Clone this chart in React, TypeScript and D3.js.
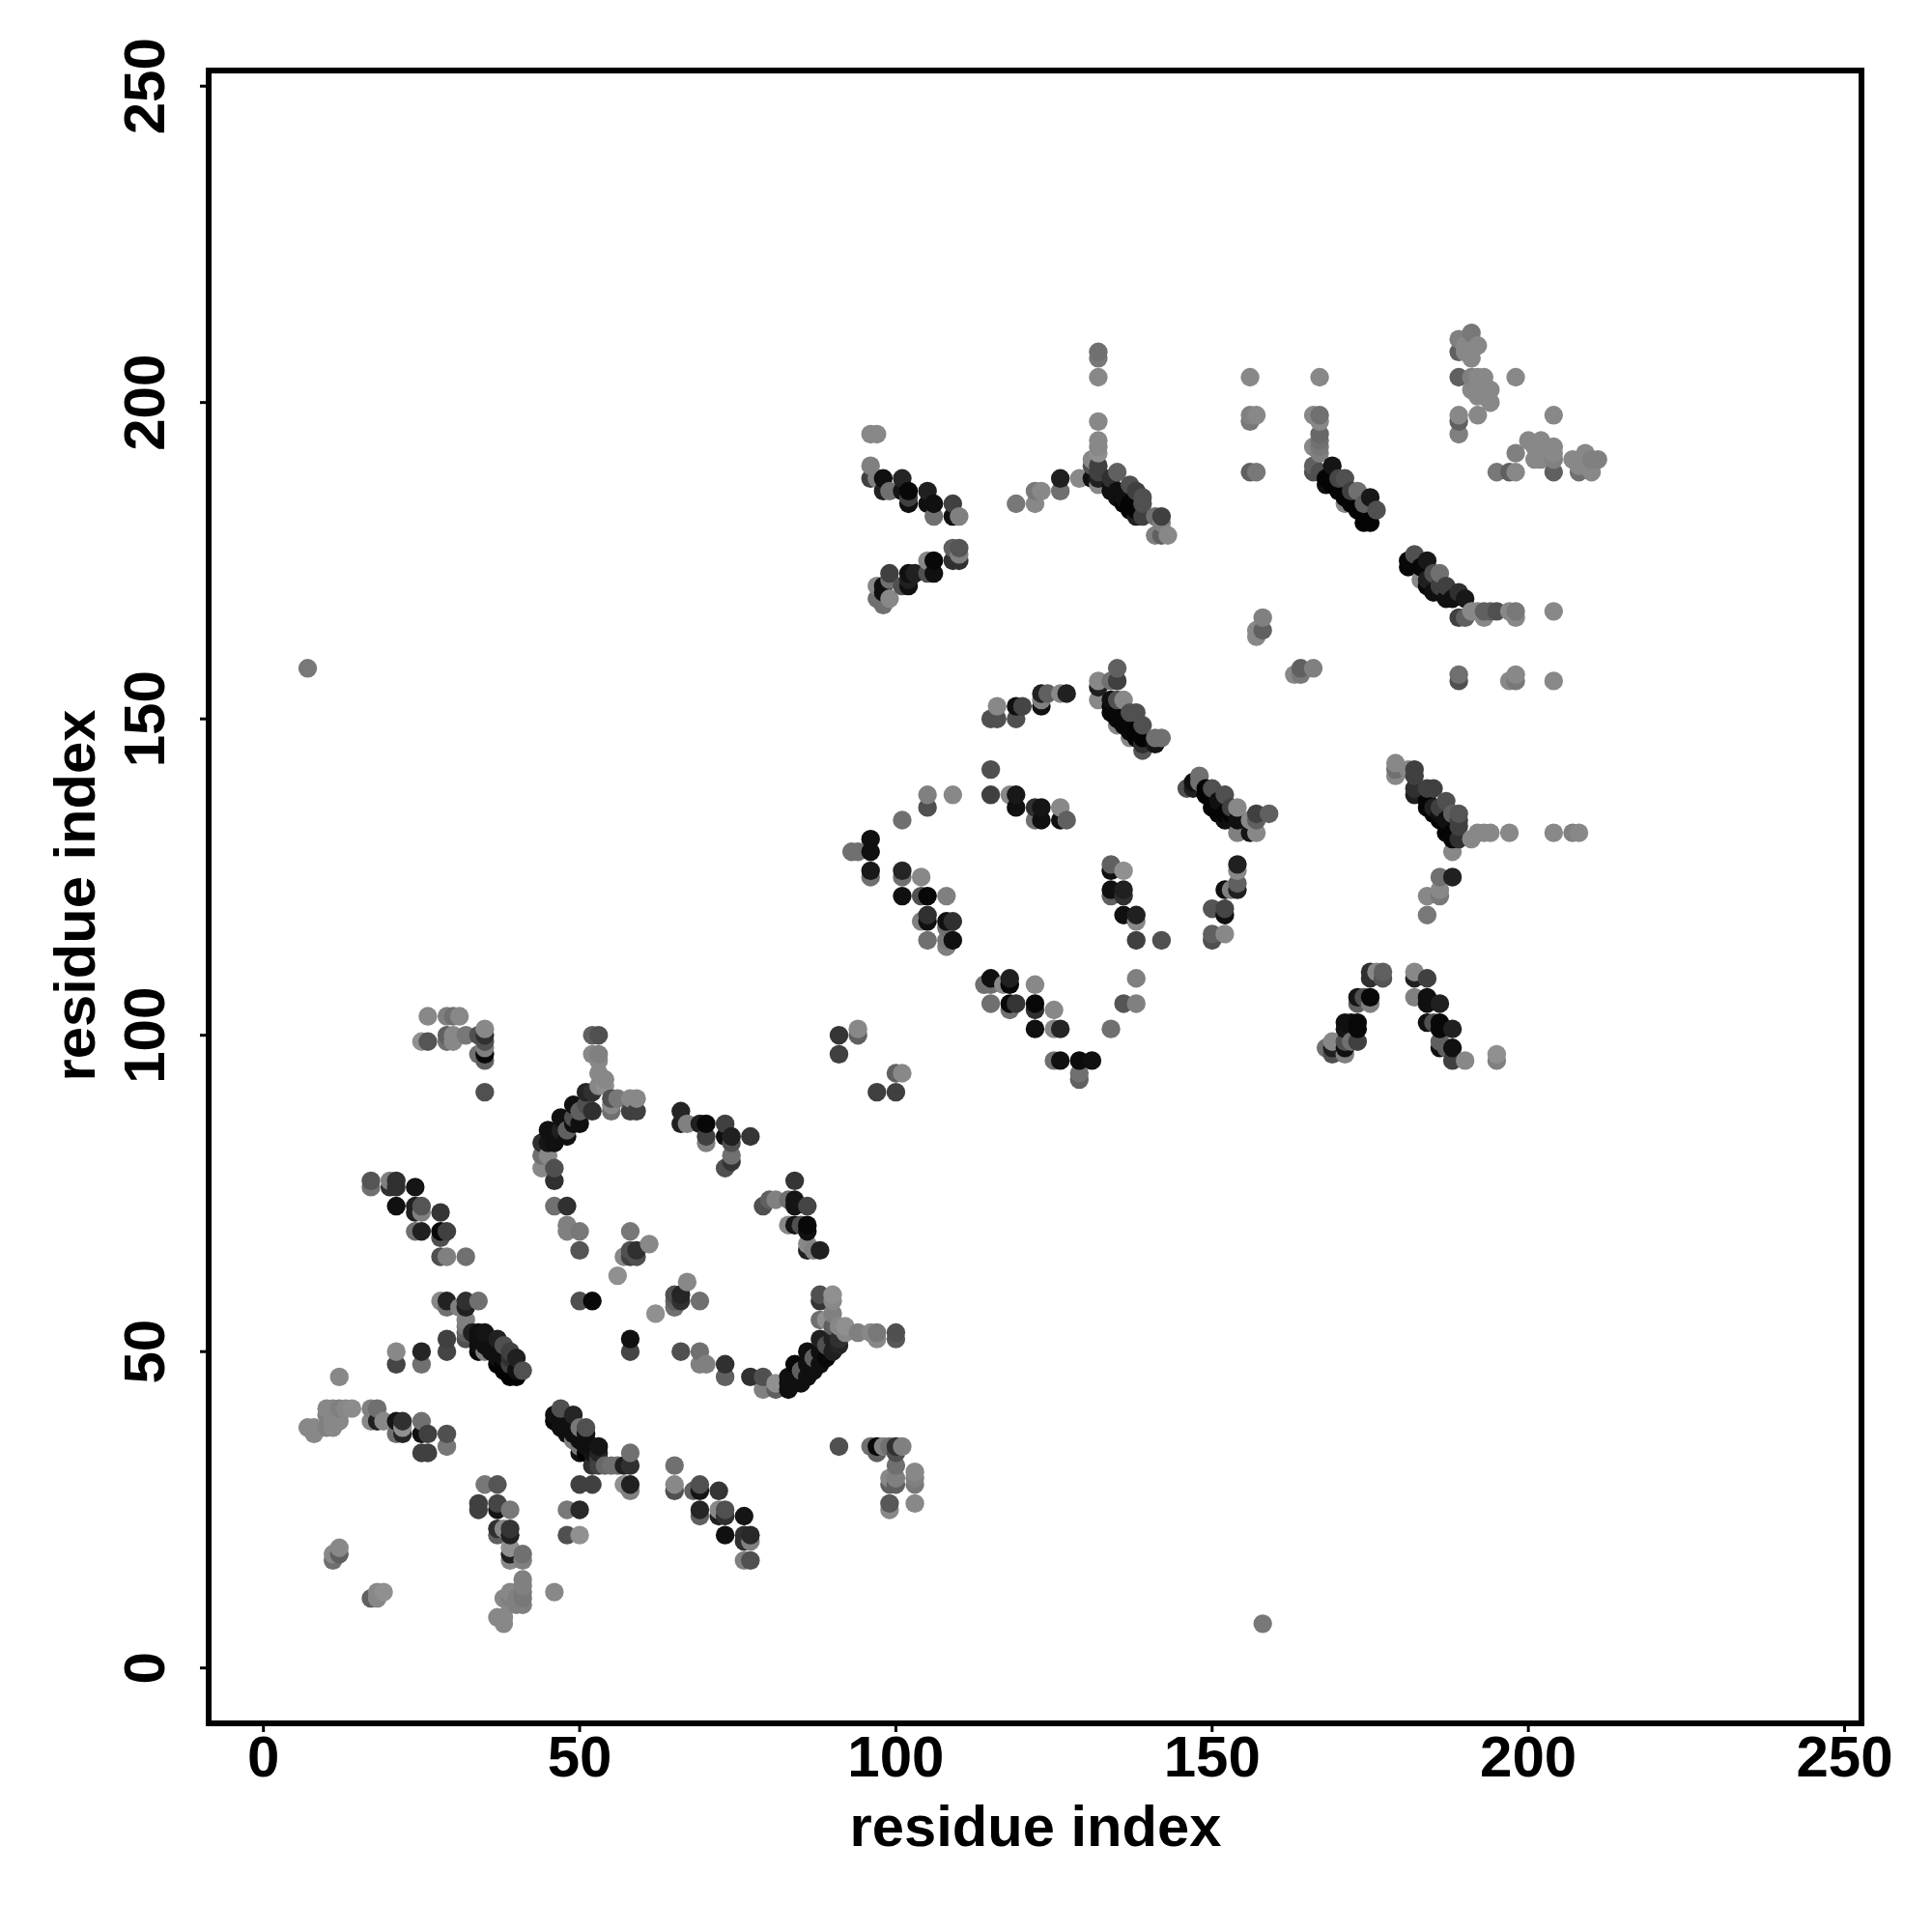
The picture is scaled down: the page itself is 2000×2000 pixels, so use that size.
import React from "react";
import * as d3 from "d3";

// each contact: [residue i, residue j, grey level]
type C = [number, number, number];

const lowerLeft: C[] = [
[28,58,0x88],[29,58,0x22],[29,57,0x70],[31,57,0x80],[32,58,0x30],[32,57,0x20],[32,55,0x80],[32,54,0x78],[32,53,0x60],[32,52,0x50],[34,58,0x70],
[29,52,0x40],[29,50,0x45],[21,50,0x88],[21,48,0x45],[25,50,0x25],[25,48,0x70],[12,46,0x88],
[33,53,0x20],[34,53,0x10],[34,52,0x10],[34,51,0x10],[34,50,0x08],[35,53,0x14],[35,52,0x10],[35,51,0x10],[35,50,0x80],[36,50,0x10],[37,52,0x20],[37,51,0x10],[37,50,0x10],[37,49,0x10],[37,48,0x05],
[38,51,0x50],[38,50,0x10],[38,49,0x10],[38,48,0x05],[38,47,0x05],[39,50,0x40],[39,49,0x30],[39,48,0x40],[39,47,0x05],[39,46,0x02],[40,49,0x20],[40,47,0x10],[40,46,0x02],[41,47,0x50],
[7,38,0x88],[8,38,0x88],[8,37,0x88],[10,41,0x88],[10,40,0x80],[10,38,0x80],[11,41,0x88],[11,40,0x88],[11,39,0x88],[11,38,0x88],[12,41,0x80],[12,40,0x88],[12,39,0x88],[13,41,0x88],[14,41,0x8c],
[17,41,0x80],[17,39,0x88],[18,41,0x70],[18,39,0x20],[19,39,0x88],[21,39,0x15],[21,37,0x70],[22,39,0x30],[22,38,0x90],[22,37,0x25],[25,39,0x70],[25,37,0x10],[26,37,0x40],[29,37,0x50],[29,35,0x78],[25,34,0x40],[26,34,0x40],
[46,40,0x10],[46,39,0x08],[47,41,0x50],[47,39,0x10],[47,38,0x10],[48,38,0x10],[48,37,0x10],[49,40,0x25],[49,38,0x10],[49,37,0x10],[49,36,0x80],[50,38,0x78],[50,37,0x10],[50,36,0x10],[50,35,0x78],[50,34,0x10],[51,38,0x50],[51,37,0x10],[51,36,0x10],[51,35,0x10],[51,34,0x02],[52,35,0x10],[52,34,0x15],[52,32,0x30],[53,35,0x15],[53,34,0x25],[53,33,0x40],[53,32,0x40],[54,32,0x68],[55,32,0x70],[56,32,0x70],[57,32,0x20],[58,34,0x70],[58,32,0x30],[57,29,0x90],[58,29,0x20],[58,28,0x80],
[50,29,0x40],[52,29,0x40],[48,25,0x78],[50,25,0x28],[48,21,0x50],[50,21,0x90],
[35,29,0x78],[37,29,0x55],[34,26,0x40],[34,25,0x40],[37,26,0x45],[37,25,0x15],[39,25,0x78],[37,22,0x30],[37,21,0x60],[38,22,0x88],[39,22,0x35],[39,21,0x20],[39,19,0x90],[39,18,0x20],[39,17,0x88],[41,18,0x70],[41,17,0x80],
[12,19,0x88],[11,18,0x88],[12,18,0x60],[11,17,0x70],[17,11,0x60],[18,11,0x88],[18,12,0x88],[19,12,0x90],[46,12,0x88],
[41,14,0x80],[41,13,0x80],[41,12,0x78],[41,11,0x78],[41,10,0x80],[39,12,0x88],[38,11,0x88],[39,11,0x80],[40,11,0x80],[39,10,0x88],[40,10,0x80],[37,8,0x88],[38,8,0x88],[38,7,0x88],
[26,103,0x88],[29,103,0x80],[30,103,0x70],[31,103,0x88],[25,99,0x90],[26,99,0x55],[29,100,0x60],[29,99,0x70],[30,100,0x88],[30,99,0x88],[32,100,0x78],[34,100,0x50],[34,97,0x70],[35,101,0x88],[35,100,0x30],[35,99,0x50],[35,98,0x80],[35,97,0x08],[35,96,0x60],[35,91,0x50],
[17,77,0x55],[17,76,0x70],[20,77,0x80],[20,76,0x30],[21,77,0x30],[21,76,0x30],[21,73,0x10],[24,76,0x15],[24,73,0x20],[24,72,0x20],[24,69,0x70],[25,73,0x55],[25,72,0x80],[25,69,0x20],[28,72,0x35],[28,69,0x08],[28,68,0x50],[28,65,0x50],[29,69,0x40],[29,65,0x80],[32,65,0x70],
];

const arcRegion: C[] = [
[44,83,0x30],[45,85,0x10],[45,83,0x15],[46,84,0x10],[46,83,0x10],[47,87,0x10],[47,85,0x20],[48,84,0x10],[48,85,0x60],[49,89,0x10],[49,87,0x50],[49,86,0x10],[50,86,0x10],[50,88,0x60],[51,91,0x25],[51,89,0x50],[52,91,0x30],[52,88,0x30],
[44,81,0x70],[45,81,0x88],[44,79,0x88],[46,79,0x50],[46,77,0x30],[46,73,0x70],[48,73,0x30],[48,70,0x80],[48,69,0x80],[50,69,0x78],[50,66,0x55],
[52,100,0x60],[53,100,0x50],[52,97,0x88],[53,97,0x80],[53,96,0x88],[53,94,0x88],[54,93,0x88],[54,92,0x90],[53,92,0x88],
[55,90,0x50],[55,89,0x88],[55,88,0x70],[56,90,0x78],[58,90,0x88],[59,90,0x88],[58,88,0x40],[59,88,0x40],
[66,88,0x25],[66,86,0x20],[67,86,0x80],[69,86,0x20],[70,86,0x08],[70,84,0x40],[70,83,0x80],[73,86,0x40],[73,84,0x10],[74,84,0x20],[74,83,0x50],[74,81,0x70],[74,80,0x35],[73,79,0x50],[77,84,0x35],
[84,77,0x35],[79,73,0x50],[80,74,0x60],[81,74,0x80],[83,74,0x70],[84,74,0x15],[84,73,0x15],[86,73,0x45],[83,70,0x88],[84,70,0x15],[85,70,0x50],[86,70,0x08],[86,69,0x10],[86,67,0x88],[86,66,0x20],[87,66,0x80],[88,66,0x20],
[58,69,0x78],[57,65,0x88],[58,66,0x50],[58,65,0x40],[59,66,0x30],[59,65,0x50],[61,67,0x88],[56,62,0x90],
[50,58,0x50],[52,58,0x08],[58,52,0x10],[58,50,0x45],[62,56,0x90],[67,61,0x88],[65,59,0x50],[66,59,0x25],[65,58,0x60],[66,58,0x30],[65,57,0x70],[69,58,0x70],
[66,50,0x50],[69,50,0x70],[69,48,0x80],[70,48,0x80],[73,48,0x30],[73,46,0x60],[77,46,0x30],[79,46,0x50],[79,44,0x80],[81,45,0x90],[81,44,0x60],
[83,46,0x10],[83,45,0x10],[83,44,0x10],[84,48,0x08],[84,46,0x10],[84,45,0x10],[85,45,0x10],[85,47,0x60],[86,50,0x10],[86,48,0x10],[86,46,0x10],[87,47,0x10],[87,49,0x60],[88,52,0x20],[88,50,0x10],[88,48,0x10],[89,49,0x08],[89,51,0x50],[90,52,0x20],[90,50,0x20],[91,52,0x30],[91,51,0x25],
[88,59,0x50],[88,58,0x35],[90,59,0x90],[90,58,0x88],[88,55,0x70],[89,55,0x90],[90,56,0x80],[90,54,0x60],[91,54,0x88],[92,54,0x90],[92,53,0x88],[94,53,0x80],[96,53,0x88],[97,53,0x78],[97,52,0x88],[100,53,0x50],[100,52,0x58],
[91,35,0x50],[96,35,0x70],[97,35,0x08],[97,34,0x60],[98,35,0x80],[99,35,0x70],[100,35,0x30],[101,35,0x80],[100,34,0x50],[100,32,0x70],[99,30,0x88],[100,30,0x80],[100,29,0x60],[99,29,0x60],[103,31,0x88],[103,30,0x80],[103,29,0x78],[99,26,0x58],[99,25,0x88],[103,26,0x88],
[65,32,0x70],[65,29,0x88],[65,28,0x50],[68,28,0x60],[69,29,0x50],[69,28,0x15],[72,28,0x35],[69,25,0x25],[69,24,0x60],[72,25,0x88],[72,24,0x20],[73,25,0x50],[73,24,0x30],[76,24,0x15],[73,21,0x10],[76,21,0x30],[77,21,0x28],[77,20,0x80],[76,20,0x30],[76,17,0x80],[77,17,0x50],
[91,100,0x35],[91,97,0x40],[94,101,0x88],[94,100,0x60],[97,91,0x40],[100,91,0x40],[100,94,0x60],[101,94,0x88],
];

const centreRing: C[] = [
[115,142,0x50],[115,138,0x40],[118,138,0x88],[119,138,0x18],[119,136,0x10],[122,136,0x30],[123,136,0x15],[122,134,0x70],[123,134,0x10],[126,136,0x88],[126,134,0x10],[127,134,0x60],
[105,138,0x80],[105,136,0x50],[109,138,0x88],[101,134,0x70],
[96,131,0x10],[93,129,0x70],[94,129,0x70],[96,129,0x10],[96,126,0x18],[96,125,0x70],[101,126,0x25],[101,125,0x70],[104,125,0x88],[101,122,0x10],[104,122,0x50],[105,122,0x08],[108,122,0x80],[104,118,0x80],[105,119,0x30],[105,118,0x10],[108,118,0x10],[109,118,0x30],[108,117,0x70],[105,115,0x70],[108,115,0x78],[109,115,0x10],[108,114,0x80],
[134,127,0x60],[134,126,0x10],[136,126,0x90],[134,123,0x10],[134,122,0x60],[136,123,0x20],[136,122,0x30],[136,119,0x10],[138,119,0x20],[138,118,0x88],[138,115,0x40],[142,115,0x50],
[138,109,0x80],[136,105,0x55],[138,105,0x80],[134,101,0x70],
[115,109,0x10],[114,108,0x70],[115,108,0x70],[117,108,0x88],[118,109,0x20],[118,108,0x08],[122,108,0x88],[115,105,0x70],[118,105,0x08],[119,105,0x35],[118,104,0x70],[122,105,0x08],[122,104,0x30],[125,104,0x88],[122,101,0x10],[125,101,0x88],[126,101,0x25],
[125,96,0x70],[126,96,0x10],[129,96,0x0c],[131,96,0x10],[129,94,0x70],[129,93,0x60],
[115,150,0x50],[116,150,0x50],[116,152,0x88],[119,150,0x50],[119,152,0x10],[120,152,0x45],[123,152,0x10],[123,153,0x80],[123,154,0x20],[124,154,0x60],[126,154,0x88],[127,154,0x20],
[135,158,0x60],[135,156,0x40],[132,156,0x88],[134,156,0x70],[132,155,0x20],[132,153,0x88],[134,153,0x10],[135,153,0x50],[136,153,0x88],[134,152,0x08],[134,151,0x08],[135,151,0x08],[135,150,0x08],[135,149,0x88],[136,150,0x08],[136,149,0x08],[137,151,0x50],[137,149,0x08],[137,148,0x08],[137,147,0x88],[138,151,0x50],[138,148,0x05],[138,147,0x05],[139,149,0x50],[139,147,0x05],[139,146,0x30],[139,145,0x55],[141,147,0x70],[141,146,0x15],[142,147,0x70],
[146,139,0x50],[147,140,0x10],[147,139,0x20],[148,141,0x70],[148,140,0x70],[149,139,0x05],[149,138,0x05],[150,139,0x50],[150,137,0x05],[150,136,0x05],[151,137,0x10],[151,135,0x05],[152,138,0x50],[152,135,0x05],[152,134,0x10],[153,136,0x40],[153,135,0x05],[153,134,0x10],[154,136,0x88],[154,134,0x10],[154,132,0x80],[156,134,0x88],[156,132,0x15],[157,135,0x40],[157,134,0x60],[157,132,0x88],[159,135,0x60],
[154,127,0x20],[154,126,0x88],[154,124,0x60],[154,123,0x20],[152,123,0x10],[153,123,0x80],[152,120,0x45],[152,119,0x10],[150,120,0x55],[150,116,0x60],[150,115,0x50],[152,116,0x88],
];

const upperRight: C[] = [
[179,143,0x88],[179,142,0x70],[179,141,0x88],[181,142,0x88],[182,142,0x40],[182,141,0x40],[182,139,0x30],[182,138,0x20],[184,139,0x40],[184,137,0x05],[184,136,0x05],[185,139,0x40],[185,135,0x05],[186,134,0x05],[187,137,0x50],[187,132,0x05],[188,135,0x60],[188,132,0x05],[188,131,0x08],[188,129,0x88],[189,135,0x55],[189,134,0x40],[189,133,0x40],[189,131,0x30],
[185,136,0x20],[186,136,0x40],[186,135,0x10],[187,134,0x10],
[191,131,0x88],[192,132,0x88],[193,132,0x88],[194,132,0x88],[197,132,0x88],[204,132,0x88],[207,132,0x80],[208,132,0x88],
[188,125,0x20],[186,125,0x70],[186,123,0x88],[186,122,0x78],[184,122,0x88],[184,119,0x78],
[175,110,0x30],[176,110,0x88],[177,110,0x60],[177,109,0x55],[175,109,0x30],[173,106,0x15],[174,106,0x50],[175,106,0x08],[173,105,0x60],[175,105,0x80],[171,102,0x10],[172,102,0x10],[173,102,0x08],[171,101,0x15],[173,101,0x08],[171,99,0x50],[172,99,0x70],[173,99,0x40],[169,99,0x88],[168,98,0x70],[169,98,0x20],[171,98,0x10],[169,97,0x50],[171,97,0x80],
[182,110,0x88],[182,109,0x20],[184,109,0x40],[182,106,0x80],[184,106,0x10],[184,105,0x10],[186,105,0x20],[184,102,0x10],[185,102,0x50],[186,102,0x08],[186,101,0x08],[188,101,0x20],[186,99,0x60],[186,98,0x10],[187,98,0x60],[188,98,0x10],[188,96,0x40],[190,96,0x88],[195,97,0x90],[195,96,0x80],
[96,195,0x88],[97,195,0x88],[96,190,0x80],[96,188,0x40],[97,188,0x80],[98,188,0x10],[98,186,0x20],[99,186,0x70],[101,188,0x25],[101,186,0x15],[102,186,0x08],[102,185,0x40],[102,184,0x10],[105,186,0x20],[105,184,0x10],[106,184,0x10],[106,182,0x70],[109,184,0x40],[109,182,0x10],[110,182,0x80],
[109,177,0x60],[110,177,0x55],[109,175,0x30],[110,176,0x80],[110,175,0x30],[105,175,0x88],[106,175,0x08],[106,173,0x10],[105,173,0x50],[102,173,0x10],[103,173,0x20],[102,172,0x20],[102,171,0x10],[101,171,0x50],[99,173,0x40],[99,172,0x70],[98,171,0x10],[97,171,0x88],[98,170,0x10],[97,169,0x70],[98,168,0x70],[99,169,0x88],
[119,184,0x78],[122,186,0x78],[123,186,0x88],[122,184,0x88],[126,188,0x20],[126,186,0x70],[129,188,0x88],
[132,208,0x70],[132,207,0x78],[132,204,0x88],[132,197,0x88],[132,194,0x88],[132,193,0x88],[132,192,0x90],[131,191,0x88],[131,190,0x50],[131,188,0x10],[132,190,0x40],[132,189,0x40],[132,188,0x20],[132,187,0x88],
[134,188,0x30],[134,187,0x10],[134,186,0x10],[135,189,0x60],[135,186,0x10],[135,185,0x10],[136,185,0x10],[136,184,0x05],[137,187,0x50],[137,184,0x05],[137,183,0x05],[138,186,0x40],[138,183,0x05],[138,182,0x20],[139,185,0x50],[139,184,0x50],[139,182,0x40],[141,182,0x70],[142,182,0x40],[142,181,0x80],[141,179,0x80],[142,179,0x60],[143,179,0x88],
[156,204,0x88],[167,204,0x88],[156,198,0x80],[157,198,0x88],[156,197,0x78],[166,198,0x88],[167,198,0x70],[167,197,0x88],[167,195,0x68],[167,194,0x70],[166,193,0x88],[167,193,0x78],[167,192,0x80],[166,190,0x60],[166,189,0x50],[156,189,0x60],[157,189,0x78],
[167,189,0x50],[168,188,0x05],[168,187,0x10],[169,190,0x15],[169,187,0x05],[170,188,0x45],[170,186,0x05],[171,188,0x50],[171,185,0x05],[171,184,0x88],[172,186,0x40],[172,184,0x05],[173,186,0x70],[173,183,0x05],[174,184,0x60],[174,182,0x05],[174,181,0x05],[175,185,0x18],[175,181,0x05],[176,183,0x50],
[182,176,0x50],[181,175,0x08],[181,174,0x08],[184,175,0x18],[183,174,0x08],[183,172,0x88],[185,173,0x50],[186,173,0x70],[184,172,0x20],[184,171,0x08],[185,170,0x10],[186,171,0x40],[187,171,0x40],[186,170,0x10],[187,169,0x10],[188,169,0x10],[190,169,0x18],[189,170,0x30],[189,166,0x40],[190,166,0x60],[191,167,0x88],[192,167,0x88],[193,166,0x88],[193,167,0x60],[194,167,0x60],[195,167,0x50],[197,167,0x88],[198,167,0x78],[198,166,0x88],[204,167,0x88],
[189,157,0x70],[189,156,0x50],[197,156,0x88],[198,157,0x88],[198,156,0x78],[204,156,0x88],
[158,166,0x80],[158,164,0x60],[157,164,0x88],[157,163,0x88],[163,157,0x88],[164,158,0x60],[164,157,0x78],[166,158,0x80],
[189,210,0x80],[191,211,0x78],[190,209,0x88],[191,209,0x88],[192,209,0x88],[189,208,0x60],[190,208,0x88],[191,207,0x88],
[189,204,0x60],[191,204,0x80],[192,204,0x88],[193,204,0x88],[191,202,0x88],[192,203,0x88],[193,203,0x88],[194,202,0x88],[192,201,0x88],[193,201,0x88],[194,200,0x88],[189,198,0x88],[189,197,0x60],[189,195,0x80],[192,198,0x88],[198,204,0x88],[204,198,0x88],
[198,192,0x80],[200,194,0x88],[201,193,0x88],[201,191,0x88],[202,194,0x88],[202,191,0x88],[203,192,0x88],[204,193,0x88],[204,192,0x88],[204,191,0x80],[195,189,0x78],[197,189,0x60],[198,189,0x88],[204,189,0x60],[207,191,0x88],[208,190,0x88],[209,192,0x88],[209,190,0x88],[210,191,0x80],[211,191,0x80],[208,189,0x70],[210,189,0x88],
];

const isolated: C[] = [[158,7,0x78],[7,158,0x78]];

const tickValues = [0, 50, 100, 150, 200, 250];
const axisTitle = "residue index";
const FONT = "'Liberation Sans', Arial, sans-serif";

export default function App() {
  const x = d3.scaleLinear().domain([0, 250]).range([272.7, 1909.5]);
  const y = d3.scaleLinear().domain([0, 250]).range([1726.7, 89.2]);
  const frame = { left: 216, right: 1927, top: 73, bottom: 1784 };
  const contacts = [...lowerLeft, ...arcRegion, ...centreRing, ...upperRight, ...isolated]
    .slice()
    .sort((a, b) => d3.ascending(a[0], b[0]) || d3.ascending(a[1], b[1]));
  return (
    <svg width={2000} height={2000} viewBox="0 0 2000 2000"
      style={{ position: "absolute", left: 0, top: 0, background: "#fff" }}>
      <g>
        {contacts.map((c, k) => (
          <circle key={k} cx={x(c[0])} cy={y(c[1])} r={9.7} fill={d3.rgb(c[2], c[2], c[2]).formatHex()} />
        ))}
      </g>
      <rect x={frame.left} y={frame.top} width={frame.right - frame.left} height={frame.bottom - frame.top}
        fill="none" stroke="#000" strokeWidth={6} />
      {tickValues.map((t) => (
        <g key={`x${t}`}>
          <line x1={x(t)} x2={x(t)} y1={frame.bottom} y2={frame.bottom + 9} stroke="#000" strokeWidth={3} />
          <text x={x(t)} y={1839} textAnchor="middle" fontFamily={FONT} fontWeight="bold" fontSize={60}>{t}</text>
        </g>
      ))}
      {tickValues.map((t) => (
        <g key={`y${t}`}>
          <line x1={frame.left} x2={frame.left - 9} y1={y(t)} y2={y(t)} stroke="#000" strokeWidth={3} />
          <text transform={`translate(170,${y(t)}) rotate(-90)`} textAnchor="middle" fontFamily={FONT} fontWeight="bold" fontSize={60}>{t}</text>
        </g>
      ))}
      <text x={1072} y={1911} textAnchor="middle" fontFamily={FONT} fontWeight="bold" fontSize={59.7}>{axisTitle}</text>
      <text transform="translate(98,927) rotate(-90)" textAnchor="middle" fontFamily={FONT} fontWeight="bold" fontSize={59.7}>{axisTitle}</text>
    </svg>
  );
}
